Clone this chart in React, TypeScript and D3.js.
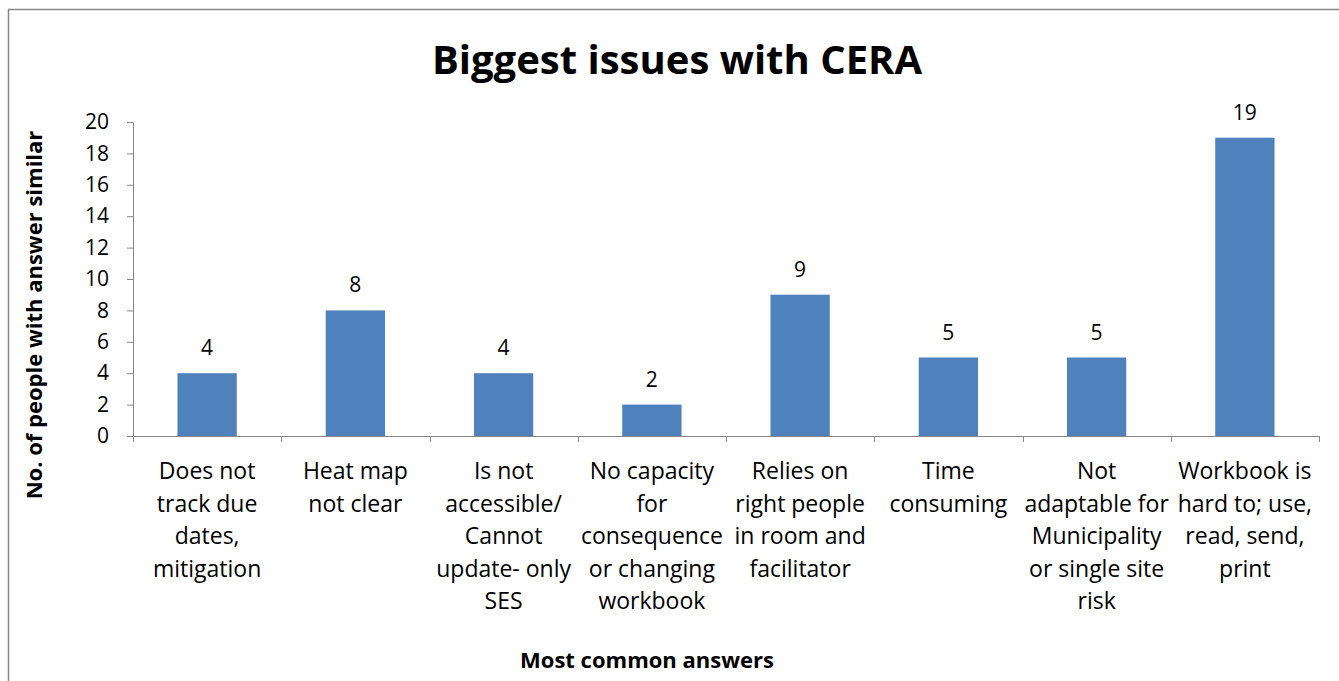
import React, { useEffect, useRef } from "react";
import * as d3 from "d3";

const categories: string[][] = [
  ["Does not", "track due", "dates,", "mitigation"],
  ["Heat map", "not clear"],
  ["Is not", "accessible/", "Cannot", "update- only", "SES"],
  ["No capacity", "for", "consequence", "or changing", "workbook"],
  ["Relies on", "right people", "in room and", "facilitator"],
  ["Time", "consuming"],
  ["Not", "adaptable for", "Municipality", "or single site", "risk"],
  ["Workbook is", "hard to; use,", "read, send,", "print"],
];
const counts: number[] = [4, 8, 4, 2, 9, 5, 5, 19];
const yTicks: number[] = [0, 2, 4, 6, 8, 10, 12, 14, 16, 18, 20];

const W = 1339;
const H = 681;
const FONT = "'Open Sans', Carlito, Calibri, sans-serif";

const App: React.FC = () => {
  const svgRef = useRef<SVGSVGElement>(null);

  useEffect(() => {
    const svg = d3.select(svgRef.current);
    svg.selectAll("*").remove();

    const margin = { top: 122, left: 133 };
    const width = 1319 - margin.left;
    const height = 436 - margin.top;

    // chart border
    svg
      .append("rect")
      .attr("x", 8.5)
      .attr("y", 9.5)
      .attr("width", W)
      .attr("height", H)
      .attr("fill", "white")
      .attr("stroke", "#878787")
      .attr("stroke-width", 1.5);

    const g = svg.append("g").attr("transform", `translate(${margin.left},${margin.top})`);

    const idx = counts.map((_, i) => i);
    const x = d3.scaleBand<number>().domain(idx).range([0, width]).paddingInner(0.6).paddingOuter(0.3);
    const xEdge = d3.scaleLinear().domain([0, counts.length]).range([0, width]);
    const y = d3.scaleLinear().domain([0, 20]).range([height, 0]);

    // y axis
    const yAxis = d3
      .axisLeft(y)
      .tickValues(yTicks)
      .tickSize(6)
      .tickSizeOuter(0)
      .tickPadding(18);
    const yg = g.append("g").call(yAxis);
    yg.select(".domain").attr("stroke", "#868686");
    yg.selectAll(".tick line").attr("stroke", "#868686");
    yg.selectAll(".tick text")
      .attr("fill", "#000")
      .style("font-family", FONT)
      .style("font-size", "21px");

    // x axis
    g.append("line")
      .attr("x1", 0)
      .attr("x2", width)
      .attr("y1", height + 0.5)
      .attr("y2", height + 0.5)
      .attr("stroke", "#868686");
    g.selectAll(".xtick")
      .data(d3.range(counts.length + 1))
      .enter()
      .append("line")
      .attr("x1", (d) => Math.round(xEdge(d)) + 0.5)
      .attr("x2", (d) => Math.round(xEdge(d)) + 0.5)
      .attr("y1", height)
      .attr("y2", height + 6)
      .attr("stroke", "#868686");

    // bars
    g.selectAll(".bar")
      .data(counts)
      .enter()
      .append("rect")
      .attr("x", (_, i) => x(i)!)
      .attr("y", (d) => y(d))
      .attr("width", x.bandwidth())
      .attr("height", (d) => height - y(d))
      .attr("fill", "#4F81BD");

    // value labels
    g.selectAll(".val")
      .data(counts)
      .enter()
      .append("text")
      .attr("x", (_, i) => x(i)! + x.bandwidth() / 2)
      .attr("y", (d) => y(d) - 18)
      .attr("text-anchor", "middle")
      .style("font-family", FONT)
      .style("font-size", "21px")
      .text((d) => d);

    // category labels
    const cat = g
      .selectAll(".cat")
      .data(categories)
      .enter()
      .append("text")
      .attr("text-anchor", "middle")
      .style("font-family", FONT)
      .style("font-size", "23px");
    cat.each(function (lines, i) {
      const t = d3.select(this);
      lines.forEach((ln, j) => {
        t.append("tspan")
          .attr("x", x(i)! + x.bandwidth() / 2)
          .attr("y", height + 43 + j * 32.5)
          .text(ln);
      });
    });

    // title
    svg
      .append("text")
      .attr("x", 677)
      .attr("y", 74)
      .attr("text-anchor", "middle")
      .style("font-family", FONT)
      .style("font-size", "40px")
      .style("font-weight", "bold")
      .text("Biggest issues with CERA");

    // axis titles
    svg
      .append("text")
      .attr("transform", `translate(42,315) rotate(-90)`)
      .attr("text-anchor", "middle")
      .style("font-family", FONT)
      .style("font-size", "22px")
      .style("font-weight", "bold")
      .text("No. of people with answer similar");

    svg
      .append("text")
      .attr("x", 647)
      .attr("y", 668)
      .attr("text-anchor", "middle")
      .style("font-family", FONT)
      .style("font-size", "22px")
      .style("font-weight", "bold")
      .text("Most common answers");

    return () => {
      svg.selectAll("*").remove();
    };
  }, []);

  return (
    <svg
      ref={svgRef}
      width={W}
      height={H}
      style={{ position: "absolute", left: 0, top: 0, display: "block" }}
    />
  );
};

export default App;
